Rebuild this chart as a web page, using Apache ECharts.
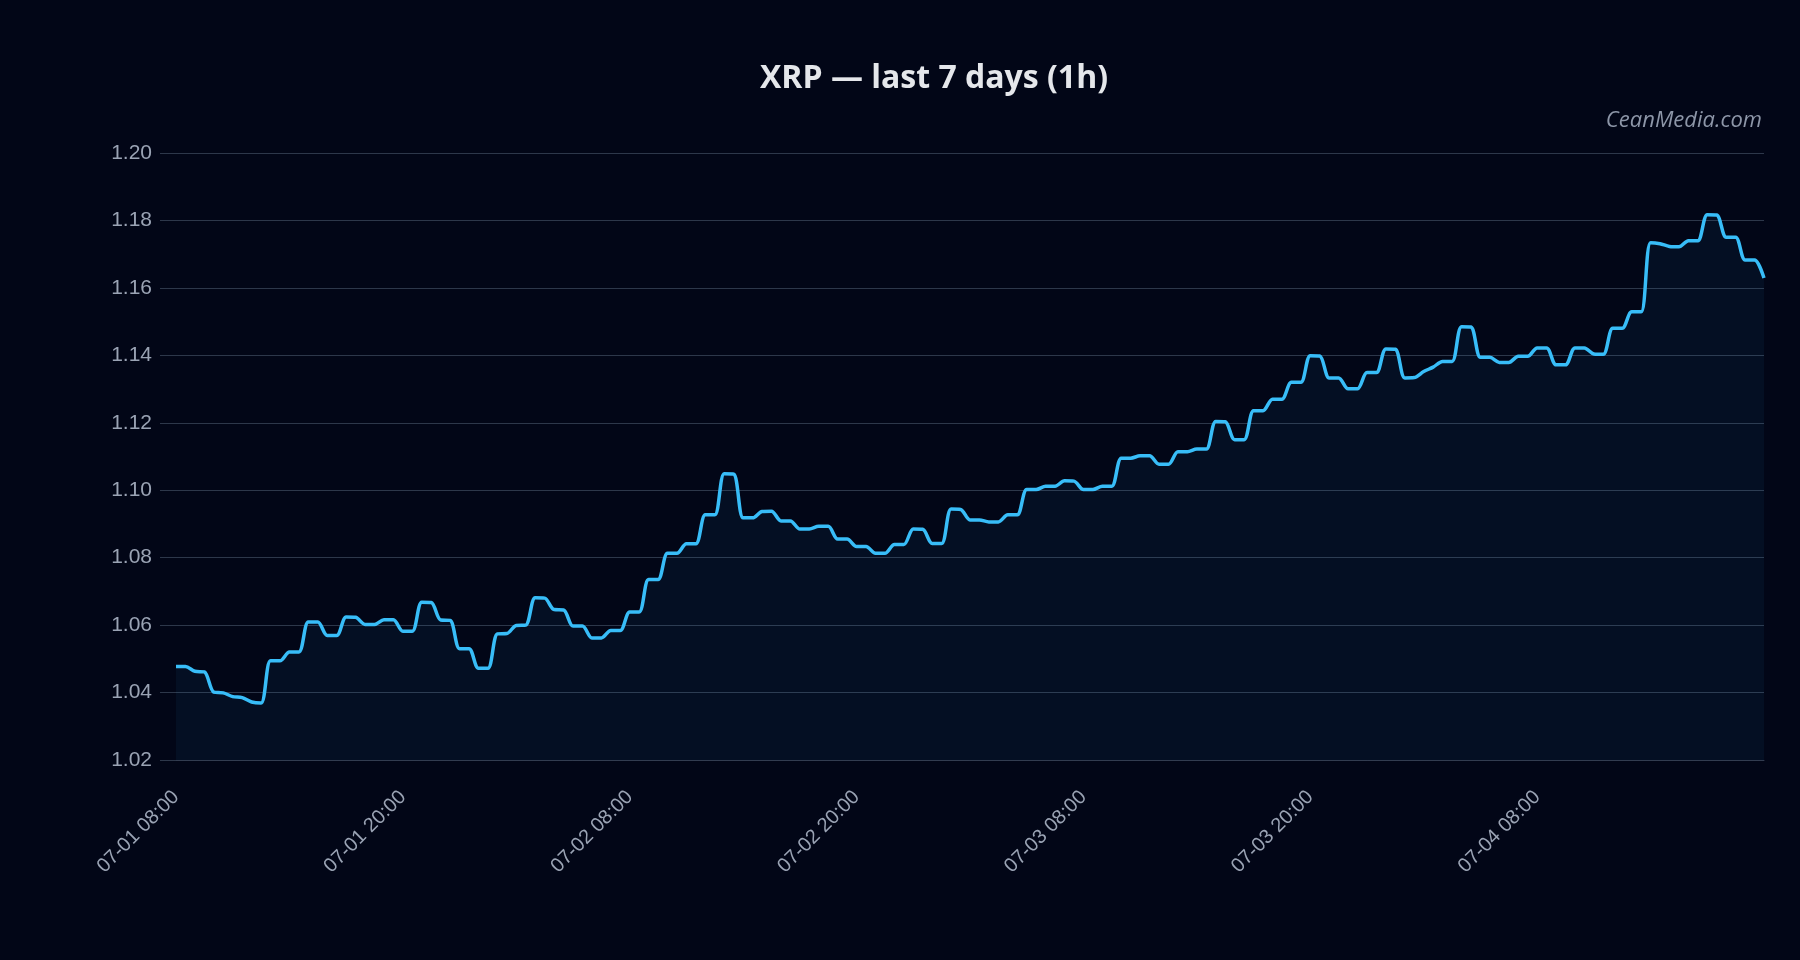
<!DOCTYPE html>
<html>
<head>
<meta charset="utf-8">
<title>XRP — last 7 days (1h)</title>
<script src="https://cdn.jsdelivr.net/npm/echarts@6.0.0/dist/echarts.min.js"></script>
<style>
    html, body {margin: 0; padding: 0; background: #020617;}
    #chart {width: 1800px; height: 960px;}
</style>
</head>
<body>
<div id="chart"></div>
<script>
// half-hour steps from 07-01 08:00, 169 points
const START = {month: 7, day: 1, hour: 8}
const POINT_COUNT = 169

// two readings per hour (hh:00, hh:30) + last point
const prices = [
    1.0477, 1.0477, 1.0463, 1.0461, 1.0401, 1.0399, 1.0388, 1.0385,
    1.0372, 1.0369, 1.0494, 1.0494, 1.0520, 1.0520, 1.0609, 1.0609,
    1.0569, 1.0569, 1.0624, 1.0623, 1.0602, 1.0602, 1.0616, 1.0616,
    1.0582, 1.0582, 1.0668, 1.0667, 1.0615, 1.0614, 1.0530, 1.0530,
    1.0472, 1.0472, 1.0574, 1.0575, 1.0599, 1.0600, 1.0681, 1.0680,
    1.0646, 1.0645, 1.0597, 1.0597, 1.0562, 1.0562, 1.0584, 1.0584,
    1.0639, 1.0639, 1.0735, 1.0735, 1.0813, 1.0813, 1.0841, 1.0841,
    1.0927, 1.0927, 1.1049, 1.1048, 1.0918, 1.0918, 1.0937, 1.0938,
    1.0909, 1.0909, 1.0885, 1.0885, 1.0893, 1.0893, 1.0855, 1.0855,
    1.0833, 1.0833, 1.0813, 1.0813, 1.0839, 1.0839, 1.0885, 1.0884,
    1.0842, 1.0842, 1.0944, 1.0943, 1.0912, 1.0912, 1.0906, 1.0906,
    1.0927, 1.0927, 1.1002, 1.1002, 1.1012, 1.1012, 1.1028, 1.1027,
    1.1002, 1.1002, 1.1012, 1.1012, 1.1095, 1.1095, 1.1102, 1.1102,
    1.1077, 1.1077, 1.1114, 1.1114, 1.1122, 1.1122, 1.1204, 1.1203,
    1.1150, 1.1150, 1.1236, 1.1236, 1.1270, 1.1270, 1.1320, 1.1320,
    1.1399, 1.1398, 1.1333, 1.1333, 1.1301, 1.1301, 1.1349, 1.1349,
    1.1419, 1.1418, 1.1333, 1.1334, 1.1352, 1.1365, 1.1382, 1.1382,
    1.1485, 1.1484, 1.1394, 1.1394, 1.1379, 1.1379, 1.1397, 1.1397,
    1.1422, 1.1422, 1.1372, 1.1372, 1.1422, 1.1422, 1.1404, 1.1403,
    1.1480, 1.1480, 1.1529, 1.1529, 1.1734, 1.1731, 1.1723, 1.1722,
    1.1740, 1.1740, 1.1817, 1.1816, 1.1750, 1.1750, 1.1683, 1.1683,
    1.1629
]

const yTicks = [1.02, 1.04, 1.06, 1.08, 1.10, 1.12, 1.14, 1.16, 1.18, 1.20]

const pad = (n) => String(n).padStart(2, '0')

// category labels "MM-DD HH:mm"
const times = []
for (let i = 0; i < POINT_COUNT; i++) {
    let mins = START.hour * 60 + i * 30
    let day = START.day + Math.floor(mins / 1440)
    mins = mins % 1440
    times.push(`${pad(START.month)}-${pad(day)} ${pad(Math.floor(mins / 60))}:${pad(mins % 60)}`)
}

const gridColor = '#2d374a'
const labelColor = '#9aa3b4'

const chart = echarts.init(document.getElementById('chart'))

chart.setOption({
    backgroundColor: '#020617',
    animation: false,
    title: {
        text: 'XRP — last 7 days (1h)',
        left: 760,
        top: 63,
        padding: 0,
        textStyle: {
            color: '#e5e7eb',
            fontFamily: 'Open Sans',
            fontWeight: 'bold',
            fontSize: 32,
        },
    },
    graphic: [
        {
            type: 'text',
            right: 38,
            top: 110,
            style: {
                text: 'CeanMedia.com',
                fill: '#8d96a8',
                font: 'italic 22px "Open Sans"',
            },
        },
    ],
    grid: {
        left: 176,
        right: 36,
        top: 153,
        bottom: 200,
    },
    xAxis: {
        type: 'category',
        data: times,
        boundaryGap: false,
        axisLine: {
            show: true,
            lineStyle: {color: '#323c50', width: 1},
        },
        axisTick: {show: false},
        splitLine: {show: false},
        axisLabel: {
            interval: 23,
            rotate: 45,
            showMaxLabel: false,
            margin: 34,
            color: labelColor,
            fontFamily: 'Liberation Sans',
            fontSize: 20,
        },
    },
    yAxis: {
        type: 'value',
        min: yTicks[0],
        max: yTicks[yTicks.length - 1],
        interval: 0.02,
        axisLine: {show: false},
        axisTick: {
            show: true,
            length: 16,
            lineStyle: {color: gridColor},
        },
        splitLine: {
            lineStyle: {color: gridColor, width: 1},
        },
        axisLabel: {
            margin: 24,
            color: labelColor,
            fontFamily: 'Liberation Sans',
            fontSize: 21,
            formatter: (v) => v.toFixed(2),
        },
    },
    series: [
        {
            type: 'line',
            data: prices,
            smooth: 0.3,
            symbol: 'none',
            lineStyle: {
                color: '#38bdf8',
                width: 3.5,
            },
            areaStyle: {
                color: 'rgba(56, 189, 248, 0.08)',
                origin: 'start',
            },
        },
    ],
})
</script>
</body>
</html>
